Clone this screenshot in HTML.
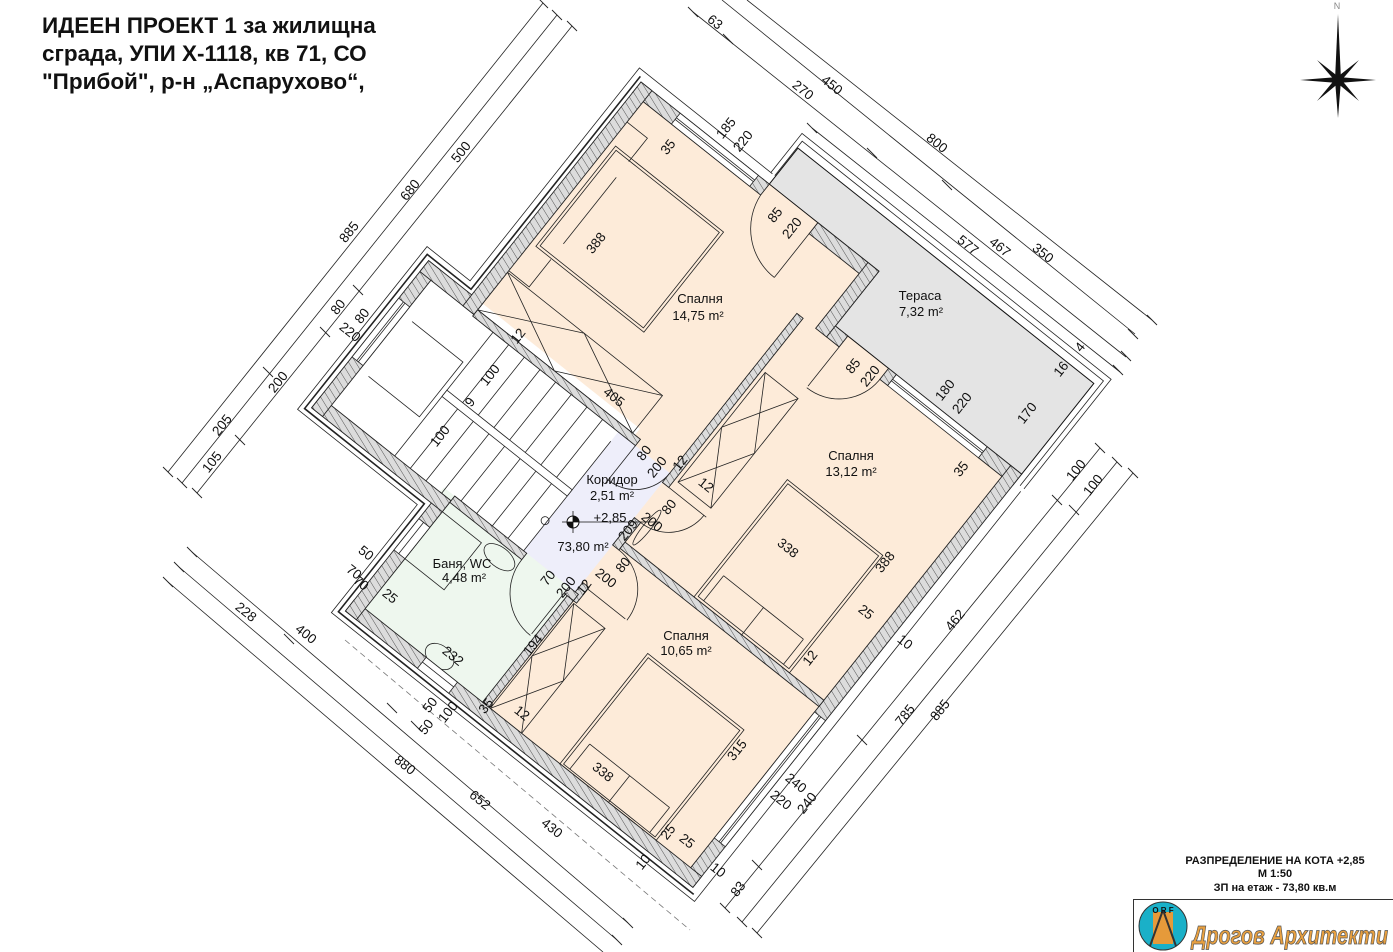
<!DOCTYPE html>
<html><head><meta charset="utf-8"><style>
html,body{margin:0;padding:0;background:#fff;}
svg{display:block;}
text{font-family:"Liberation Sans",sans-serif;fill:#111;}
</style></head><body>
<svg width="1393" height="952" viewBox="0 0 1393 952" xmlns="http://www.w3.org/2000/svg">
<defs>
<pattern id="h" patternUnits="userSpaceOnUse" width="6" height="6" patternTransform="rotate(-70)">
<rect width="6" height="6" fill="#dcdcdc"/><line x1="0" y1="0" x2="0" y2="6" stroke="#444" stroke-width="0.9"/>
</pattern>
</defs>

<!-- title -->
<text x="42" y="33" font-size="22.5" font-weight="bold">ИДЕЕН ПРОЕКТ 1 за жилищна</text>
<text x="42" y="61" font-size="22.5" font-weight="bold">сграда, УПИ Х-1118, кв 71, СО</text>
<text x="42" y="89" font-size="22.5" font-weight="bold">"Прибой", р-н „Аспарухово“,</text>

<!-- north arrow -->
<text x="1337" y="9" font-size="9" text-anchor="middle" style="fill:#888">N</text>
<g fill="#111">
<polygon points="1338,14 1341,80 1338,118 1335,80"/>
<polygon points="1300,80 1338,77 1376,80 1338,83"/>
<polygon points="1317,60 1340,78 1359,101 1336,82"/>
<polygon points="1359,60 1340,82 1317,101 1336,78"/>
</g>

<!-- dimension lines (screen) -->
<g stroke="#222" stroke-width="0.8" fill="none">
<line x1="543" y1="3" x2="168" y2="472"/>
<line x1="557" y1="15" x2="182" y2="483"/>
<line x1="572" y1="26" x2="197" y2="493"/>
<line x1="693" y1="12" x2="1126" y2="357"/>
<line x1="722" y1="0" x2="1135" y2="334"/>
<line x1="747" y1="0" x2="1152" y2="320"/>
<line x1="812" y1="128" x2="1120" y2="372"/>
<line x1="1100" y1="448" x2="725" y2="908"/>
<line x1="1117" y1="462" x2="742" y2="922"/>
<line x1="1133" y1="473" x2="757" y2="933"/>
<line x1="192" y1="552" x2="628" y2="923"/>
<line x1="179" y1="567" x2="617" y2="940"/>
<line x1="168" y1="582" x2="603" y2="952"/>
<line x1="345" y1="640" x2="690" y2="930" stroke-dasharray="6,4" stroke="#777"/>
</g>
<g stroke="#222" stroke-width="0.9">
<path d="M163,467l10,10M177,478l10,10M192,488l10,10M538,-2l10,10M552,10l10,10M567,21l10,10M353,285l10,10M320,327l10,10M263,367l10,10M235,435l10,10
M688,7l10,10M723,34l10,10M867,148l10,10M942,180l10,10M807,123l10,10M1113,365l10,10M1121,351l10,10M1128,329l10,10M1147,315l10,10
M1095,443l10,10M1112,457l10,10M1128,468l10,10M1052,495l10,10M1069,505l10,10M857,735l10,10M752,860l10,10M720,903l10,10M737,917l10,10M752,928l10,10
M187,547l10,10M174,562l10,10M163,577l10,10M284,634l10,10M387,703l10,10M411,721l10,10M623,918l10,10M612,935l10,10"/>
</g>

<!-- building in local frame -->
<g transform="translate(641,82) rotate(38.5)" stroke="#222" stroke-width="0.8">
<path d="M160,-10 L-10,-10 L-10,262 L-65,262 L-65,470 L88,470 L88,608 L552,608 L552,84" fill="none"/>
<path d="M-4,-4 L-4,268 L-60,268 L-60,465 L93,465 L93,603 L547,603" fill="none" stroke-width="1.6"/>
<path d="M158,-10 L158,-60 L553,-60 L553,80" fill="none"/>
<path d="M163,-10 L163,-54 L548,-54 L548,80" fill="none"/>
<!-- floors -->
<polygon points="0,0 542,0 542,598 98,598 98,446 0,446" fill="#fdebd9" stroke="none"/>
<polygon points="164,-46 542,-46 542,70 304,70 304,0 164,0" fill="#e4e4e4" stroke="#111" stroke-width="1"/>
<rect x="-55" y="272" width="270" height="188" fill="#fff" stroke="none"/>
<polygon points="200,288 266,288 266,440 200,440" fill="#eeeefa" stroke="none"/>
<rect x="98" y="440" width="172" height="158" fill="#eef7ee" stroke="none"/>
<!-- stairs -->
<g fill="none" stroke="#222" stroke-width="0.8">
<path d="M40,288V446M60,288V446M80,288V446M100,288V446M120,288V446M140,288V446M160,288V446M180,288V446M200,300V446"/>
<rect x="40" y="362" width="160" height="8" fill="#fff"/>
<path d="M-30,330 L35,330 L35,400 L-30,400"/>
<circle cx="198" cy="403" r="4"/>
</g>
<!-- furniture -->
<g fill="none" stroke="#222" stroke-width="0.8">
<rect x="20" y="66" width="138" height="128"/><rect x="23" y="69" width="132" height="122"/>
<path d="M14,40 L40,40 L40,70 M14,230 L40,230 L40,195"/><line x1="40" y1="90" x2="40" y2="175"/>
<rect x="14" y="232" width="198" height="48"/>
<path d="M14,232 L112,280 M14,280 L112,232 M112,232 L212,280 M112,280 L212,232"/>
<rect x="278" y="150" width="42" height="140"/>
<path d="M278,150 L320,220 M278,220 L320,150 M278,220 L320,290 M278,290 L320,220"/>
<rect x="362" y="220" width="122" height="150"/><rect x="365" y="223" width="116" height="144"/>
<path d="M372,335 V367 M474,335 V367 M372,335 H474 M423,335 V370"/>
<rect x="361" y="443" width="123" height="141"/><rect x="364" y="446" width="117" height="136"/>
<path d="M372,550 V582 M474,550 V582 M372,550 H474 M423,550 V584"/>
<rect x="272" y="450" width="40" height="134"/>
<path d="M272,450 L312,517 M272,517 L312,450 M272,517 L312,584 M272,584 L312,517"/>
<rect x="112" y="460" width="50" height="60"/>
<ellipse cx="185" cy="460" rx="18" ry="10"/><ellipse cx="200" cy="575" rx="16" ry="11"/>
<ellipse cx="282" cy="345" rx="4" ry="22"/>
</g>
<!-- doors -->
<g fill="none" stroke="#222" stroke-width="0.8">
<path d="M226,14 L226,70 M164,14 A62,62 0 0 0 226,70"/>
<path d="M320,84 L320,134 M372,84 A52,52 0 0 1 320,136"/>
<path d="M222,288 L222,336 M266,288 A44,44 0 0 1 222,332"/>
<path d="M274,300 L322,300 M274,345 A45,45 0 0 0 319,300"/>
<path d="M274,430 L322,430 M274,380 A50,50 0 0 1 324,430"/>
<path d="M258,448 L258,500 M204,448 A54,54 0 0 0 258,502"/>
</g>
<!-- walls -->
<g fill="url(#h)" stroke="#222" stroke-width="0.9">
<rect x="0" y="0" width="164" height="14"/>
<rect x="226" y="0" width="78" height="14"/>
<rect x="290" y="0" width="14" height="84"/>
<rect x="304" y="70" width="16" height="14"/>
<rect x="372" y="70" width="10" height="14"/>
<rect x="498" y="70" width="44" height="14"/>
<rect x="528" y="70" width="14" height="528"/>
<rect x="98" y="584" width="444" height="14"/>
<rect x="98" y="446" width="14" height="152"/>
<rect x="-55" y="446" width="167" height="14"/>
<rect x="-55" y="272" width="14" height="188"/>
<rect x="-55" y="272" width="69" height="14"/>
<rect x="0" y="0" width="14" height="286"/>
<rect x="14" y="280" width="208" height="8"/>
<rect x="266" y="84" width="8" height="216"/>
<rect x="266" y="345" width="8" height="35"/>
<rect x="266" y="428" width="8" height="20"/>
<rect x="274" y="370" width="254" height="8"/>
<rect x="112" y="440" width="92" height="8"/>
<rect x="258" y="440" width="12" height="8"/>
<rect x="262" y="448" width="8" height="136"/>
</g>
<!-- windows -->
<g fill="#fff" stroke="#222" stroke-width="0.8">
<rect x="50" y="0" width="100" height="14"/><line x1="50" y1="6" x2="150" y2="6"/><line x1="50" y1="8" x2="150" y2="8"/>
<rect x="382" y="70" width="116" height="14"/><line x1="382" y1="76" x2="498" y2="76"/><line x1="382" y1="78" x2="498" y2="78"/>
<rect x="528" y="385" width="14" height="161"/><line x1="534" y1="385" x2="534" y2="546"/><line x1="536" y1="385" x2="536" y2="546"/>
<rect x="-55" y="320" width="14" height="75"/><line x1="-49" y1="320" x2="-49" y2="395"/><line x1="-47" y1="320" x2="-47" y2="395"/>
<rect x="98" y="480" width="14" height="40"/><line x1="104" y1="480" x2="104" y2="520"/>
<rect x="190" y="584" width="40" height="14"/><line x1="190" y1="590" x2="230" y2="590"/>
</g>
</g>
<g>
<circle cx="573" cy="522" r="6" fill="#fff" stroke="#111"/>
<path d="M573,522 L573,516 A6,6 0 0 1 579,522 Z M573,522 L573,528 A6,6 0 0 1 567,522 Z" fill="#111"/>
<line x1="562" y1="522" x2="660" y2="522" stroke="#111" stroke-width="0.8"/>
<line x1="573" y1="511" x2="573" y2="533" stroke="#111" stroke-width="0.8"/>
</g>

<!-- room labels -->
<g font-size="13" text-anchor="middle">
<text x="700" y="303">Спалня</text><text x="698" y="320">14,75 m²</text>
<text x="920" y="300">Тераса</text><text x="921" y="316">7,32 m²</text>
<text x="851" y="460">Спалня</text><text x="851" y="476">13,12 m²</text>
<text x="612" y="484">Коридор</text><text x="612" y="500">2,51 m²</text>
<text x="610" y="522">+2,85</text><text x="583" y="551">73,80 m²</text>
<text x="462" y="568">Баня, WC</text><text x="464" y="582">4,48 m²</text>
<text x="686" y="640">Спалня</text><text x="686" y="655">10,65 m²</text>
</g>

<!-- dimension texts -->
<g font-size="13.5" text-anchor="middle" dominant-baseline="central">
<text transform="translate(349,232) rotate(-51.5)">885</text>
<text transform="translate(410,190) rotate(-51.5)">680</text>
<text transform="translate(461,152) rotate(-51.5)">500</text>
<text transform="translate(338,307) rotate(-51.5)">80</text>
<text transform="translate(362,316) rotate(-51.5)">80</text>
<text transform="translate(350,332) rotate(38.5)">220</text>
<text transform="translate(222,425) rotate(-51.5)">205</text>
<text transform="translate(212,462) rotate(-51.5)">105</text>
<text transform="translate(278,382) rotate(-51.5)">200</text>
<text transform="translate(490,375) rotate(-51.5)">100</text>
<text transform="translate(470,402) rotate(-51.5)">9</text>
<text transform="translate(440,436) rotate(-51.5)">100</text>
<text transform="translate(518,336) rotate(-51.5)">12</text>
<text transform="translate(614,397) rotate(38.5)">405</text>
<text transform="translate(596,243) rotate(-51.5)">388</text>
<text transform="translate(668,147) rotate(-51.5)">35</text>
<text transform="translate(726,128) rotate(-51.5)">185</text>
<text transform="translate(743,141) rotate(-51.5)">220</text>
<text transform="translate(775,215) rotate(-51.5)">85</text>
<text transform="translate(792,228) rotate(-51.5)">220</text>
<text transform="translate(853,366) rotate(-51.5)">85</text>
<text transform="translate(870,376) rotate(-51.5)">220</text>
<text transform="translate(945,390) rotate(-51.5)">180</text>
<text transform="translate(962,403) rotate(-51.5)">220</text>
<text transform="translate(1027,413) rotate(-51.5)">170</text>
<text transform="translate(1061,369) rotate(-51.5)">16</text>
<text transform="translate(1080,347) rotate(-51.5)">4</text>
<text transform="translate(961,469) rotate(-51.5)">35</text>
<text transform="translate(1076,470) rotate(-51.5)">100</text>
<text transform="translate(1093,485) rotate(-51.5)">100</text>
<text transform="translate(715,22) rotate(38.5)">63</text>
<text transform="translate(803,90) rotate(38.5)">270</text>
<text transform="translate(832,85) rotate(38.5)">450</text>
<text transform="translate(937,143) rotate(38.5)">800</text>
<text transform="translate(968,245) rotate(38.5)">577</text>
<text transform="translate(1000,247) rotate(38.5)">467</text>
<text transform="translate(1043,253) rotate(38.5)">350</text>
<text transform="translate(644,453) rotate(-51.5)">80</text>
<text transform="translate(657,467) rotate(-51.5)">200</text>
<text transform="translate(680,463) rotate(-51.5)">12</text>
<text transform="translate(706,485) rotate(38.5)">12</text>
<text transform="translate(669,507) rotate(-51.5)">80</text>
<text transform="translate(652,522) rotate(38.5)">200</text>
<text transform="translate(628,530) rotate(-51.5)">209</text>
<text transform="translate(548,578) rotate(-51.5)">70</text>
<text transform="translate(566,587) rotate(-51.5)">200</text>
<text transform="translate(584,587) rotate(-51.5)">12</text>
<text transform="translate(606,578) rotate(38.5)">200</text>
<text transform="translate(623,565) rotate(-51.5)">80</text>
<text transform="translate(533,645) rotate(-51.5)">194</text>
<text transform="translate(453,656) rotate(38.5)">232</text>
<text transform="translate(486,706) rotate(-51.5)">35</text>
<text transform="translate(522,713) rotate(38.5)">12</text>
<text transform="translate(366,553) rotate(38.5)">50</text>
<text transform="translate(354,572) rotate(38.5)">70</text>
<text transform="translate(361,583) rotate(38.5)">70</text>
<text transform="translate(390,596) rotate(38.5)">25</text>
<text transform="translate(788,548) rotate(38.5)">338</text>
<text transform="translate(885,562) rotate(-51.5)">388</text>
<text transform="translate(866,612) rotate(38.5)">25</text>
<text transform="translate(905,642) rotate(38.5)">10</text>
<text transform="translate(810,658) rotate(-51.5)">12</text>
<text transform="translate(737,750) rotate(-51.5)">315</text>
<text transform="translate(603,772) rotate(38.5)">338</text>
<text transform="translate(668,832) rotate(-51.5)">25</text>
<text transform="translate(687,841) rotate(38.5)">25</text>
<text transform="translate(643,862) rotate(-51.5)">10</text>
<text transform="translate(718,870) rotate(38.5)">10</text>
<text transform="translate(796,783) rotate(38.5)">240</text>
<text transform="translate(781,800) rotate(38.5)">220</text>
<text transform="translate(807,803) rotate(-51.5)">240</text>
<text transform="translate(738,889) rotate(-51.5)">83</text>
<text transform="translate(905,715) rotate(-51.5)">785</text>
<text transform="translate(940,710) rotate(-51.5)">885</text>
<text transform="translate(955,620) rotate(-51.5)">462</text>
<text transform="translate(246,612) rotate(38.5)">228</text>
<text transform="translate(306,634) rotate(38.5)">400</text>
<text transform="translate(405,765) rotate(38.5)">880</text>
<text transform="translate(480,800) rotate(38.5)">652</text>
<text transform="translate(552,828) rotate(38.5)">430</text>
<text transform="translate(426,727) rotate(-51.5)">50</text>
<text transform="translate(430,705) rotate(-51.5)">50</text>
<text transform="translate(448,712) rotate(-51.5)">100</text>
</g>

<!-- title block -->
<g font-size="11" font-weight="bold" text-anchor="middle">
<text x="1275" y="864">РАЗПРЕДЕЛЕНИЕ НА КОТА +2,85</text>
<text x="1275" y="877">М 1:50</text>
<text x="1275" y="891">ЗП на етаж -  73,80 кв.м</text>
</g>
<rect x="1133.5" y="899.5" width="262" height="56" fill="#fff" stroke="#333"/>
<circle cx="1163" cy="926" r="24" fill="#1ab0c8" stroke="#333"/>
<rect x="1153" y="912" width="20" height="32" fill="#e69a3a"/>
<path d="M1163,910 L1150,946 M1163,910 L1176,946" stroke="#333" stroke-width="2"/>
<text x="1163" y="913" font-size="8" text-anchor="middle" font-weight="bold">O R F</text>
<text x="1192" y="944" font-size="26" font-weight="bold" font-style="italic" textLength="196" lengthAdjust="spacingAndGlyphs" style="fill:#e8a040;stroke:#555;stroke-width:0.8">Дрогов Архитекти</text>
</svg>
</body></html>
